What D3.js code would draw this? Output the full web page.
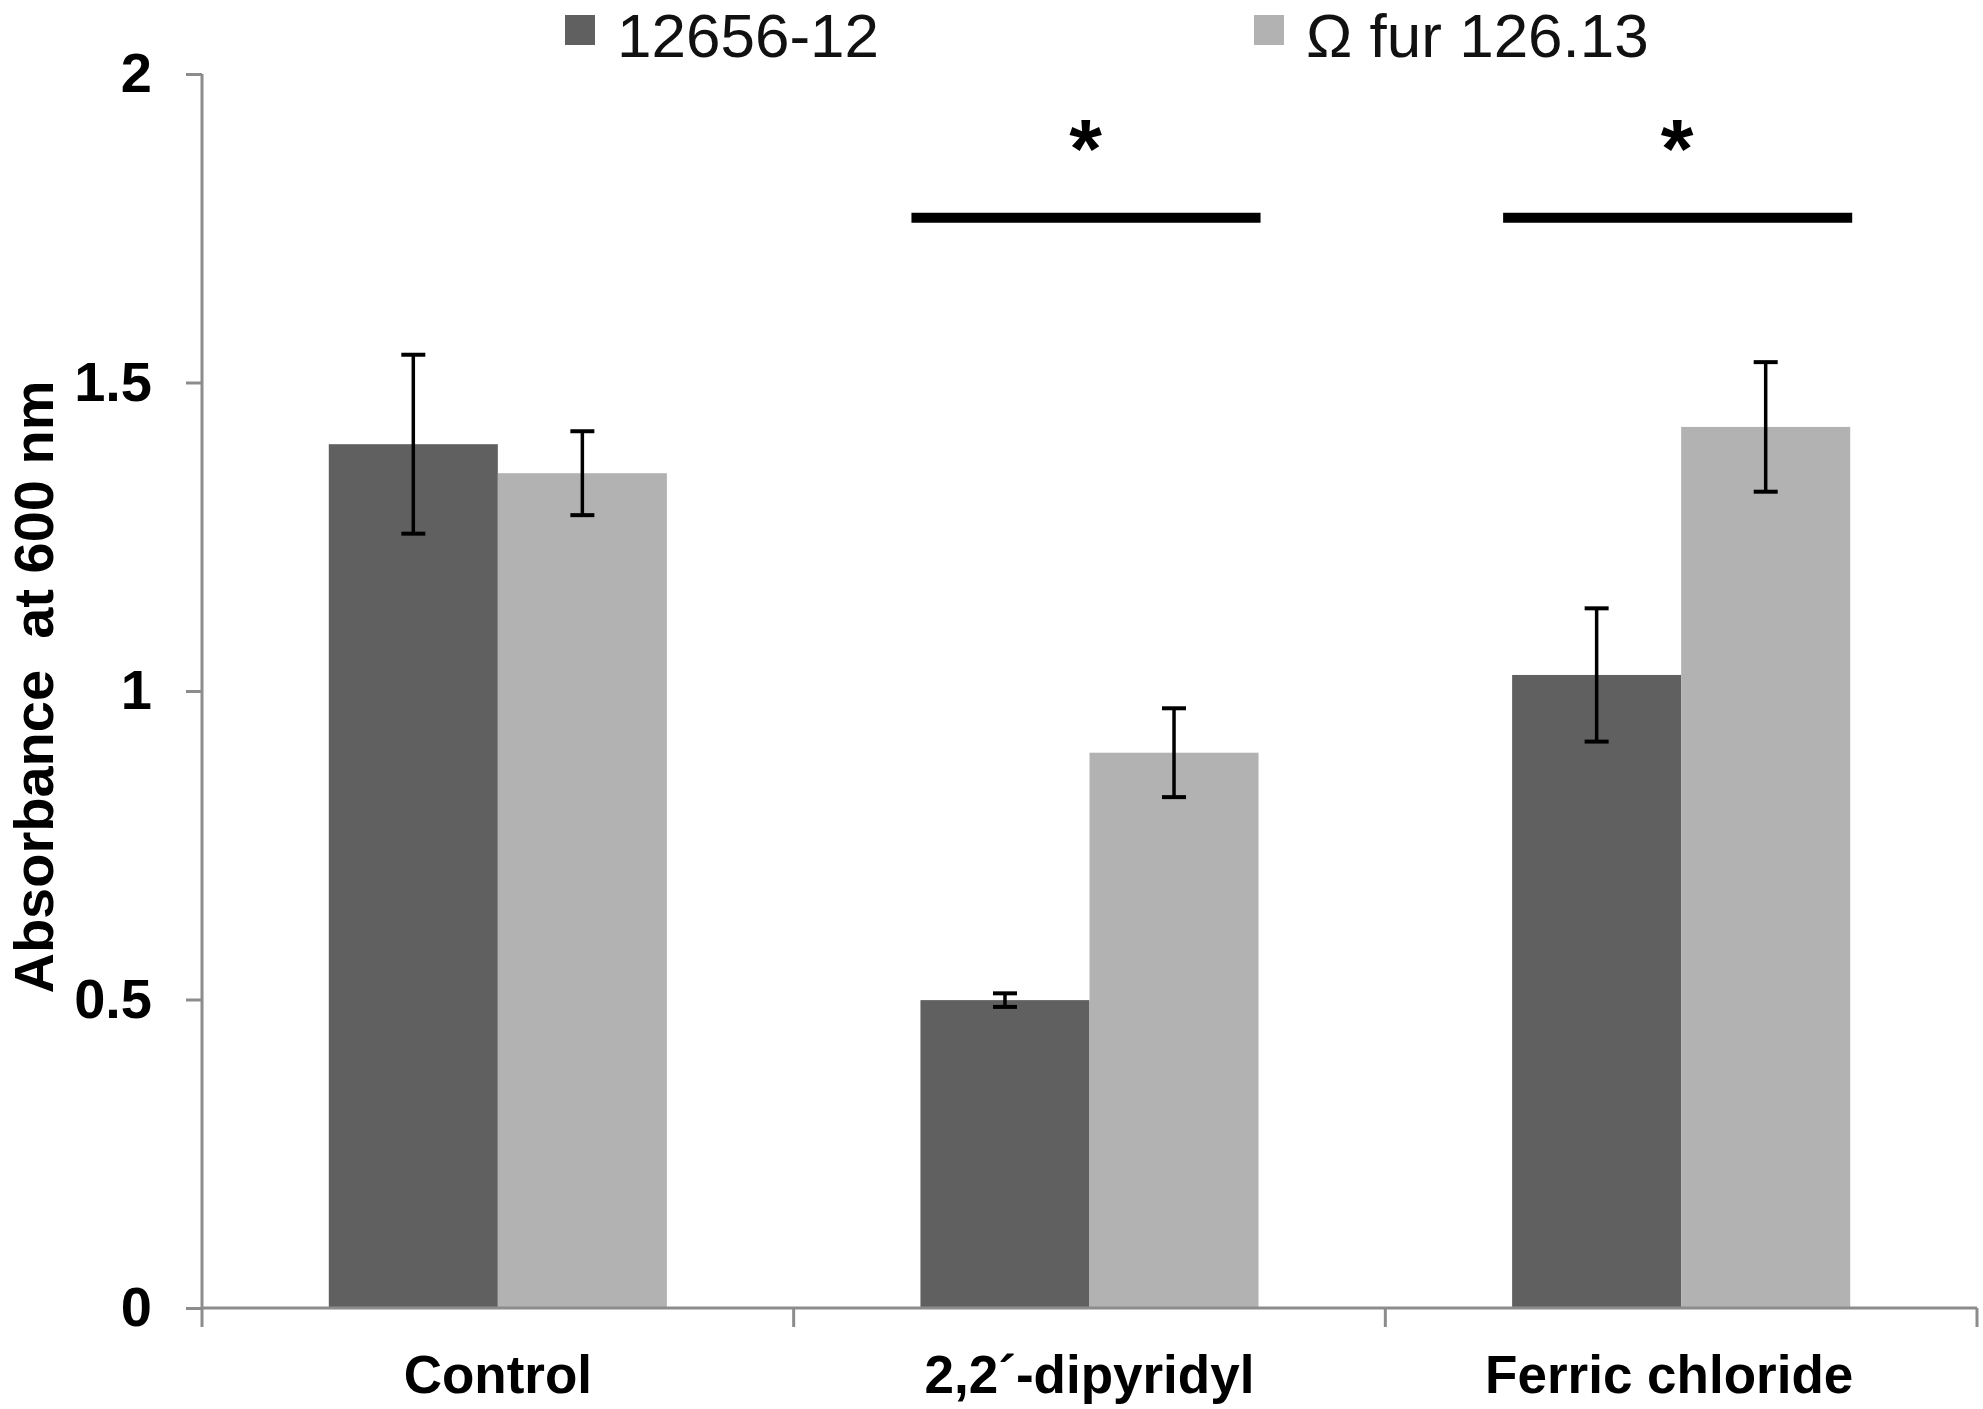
<!DOCTYPE html>
<html>
<head>
<meta charset="utf-8">
<script src="https://cdn.jsdelivr.net/npm/d3@7"></script>
<style>
  body { margin: 0; background: #fff; }
  text { font-family: "Liberation Sans", Arial, sans-serif; }
</style>
</head>
<body>
<div id="graph"></div>
<script>
const categories = ["Control", "2,2´-dipyridyl", "Ferric chloride"];
const seriesNames = ["12656-12", "Ω fur 126.13"];
const strainValues = [1.40, 0.499, 1.026];
const strainErrors = [0.145, 0.011, 0.108];
const mutantValues = [1.353, 0.900, 1.428];
const mutantErrors = [0.068, 0.072, 0.105];
const yTicks = [0, 0.5, 1, 1.5, 2];
const sigCategories = ["2,2´-dipyridyl", "Ferric chloride"];
const sigLevel = 1.767;

const colors = ["#606060", "#b2b2b2"];

function buildRows() {
    return categories.map((c, i) => ({
        category: c,
        bars: [
            { series: seriesNames[0], value: strainValues[i], err: strainErrors[i] },
            { series: seriesNames[1], value: mutantValues[i], err: mutantErrors[i] }
        ]
    }));
}

function renderGraph(rows) {
    const width = 1983;
    const height = 1409;
    const margin = { top: 74, bottom: 101, left: 202, right: 6 };
    const axisColor = "#8c8c8c";

    const svg = d3.select("#graph")
        .append("svg")
        .attr("width", width)
        .attr("height", height)
        .attr("viewBox", [0, 0, width, height]);

    const defs = svg.append("defs");
    defs.append("filter").attr("id", "shadow")
        .attr("x", "-5%").attr("y", "-200%").attr("width", "110%").attr("height", "500%")
        .append("feGaussianBlur").attr("stdDeviation", 3);

    const x0 = d3.scaleBand()
        .domain(categories)
        .range([margin.left, width - margin.right])
        .padding(0);

    const x1 = d3.scaleBand()
        .domain(seriesNames)
        .range([0, x0.bandwidth()])
        .paddingInner(0)
        .paddingOuter(0.75);

    const y = d3.scaleLinear()
        .domain([0, 2])
        .range([height - margin.bottom, margin.top]);

    const color = d3.scaleOrdinal().domain(seriesNames).range(colors);

    // bars
    const groups = svg.append("g")
        .selectAll("g")
        .data(rows)
        .join("g")
        .attr("transform", d => `translate(${x0(d.category)},0)`);

    groups.selectAll("rect")
        .data(d => d.bars)
        .join("rect")
        .attr("x", d => x1(d.series))
        .attr("y", d => y(d.value))
        .attr("width", x1.bandwidth())
        .attr("height", d => y(0) - y(d.value))
        .attr("fill", d => color(d.series));

    // error bars
    const capHalf = 12;
    const eb = groups.selectAll("g.err")
        .data(d => d.bars)
        .join("g")
        .attr("class", "err")
        .attr("transform", d => `translate(${x1(d.series) + x1.bandwidth() / 2},0)`);
    eb.append("line")
        .attr("y1", d => y(d.value + d.err))
        .attr("y2", d => y(d.value - d.err))
        .attr("stroke", "#000").attr("stroke-width", 3.5);
    eb.selectAll("line.cap")
        .data(d => [d.value + d.err, d.value - d.err])
        .join("line")
        .attr("class", "cap")
        .attr("x1", -capHalf).attr("x2", capHalf)
        .attr("y1", v => y(v)).attr("y2", v => y(v))
        .attr("stroke", "#000").attr("stroke-width", 4);

    // y axis
    const yAxis = g => g
        .attr("transform", `translate(${margin.left},0)`)
        .call(d3.axisLeft(y).tickValues(yTicks).tickSize(16).tickSizeOuter(0).tickPadding(34).tickFormat(d => d))
        .call(g => g.select(".domain").remove())
        .call(g => g.selectAll(".tick line").attr("stroke", axisColor).attr("stroke-width", 3))
        .call(g => g.selectAll(".tick text")
            .attr("font-size", "56px").attr("font-weight", "bold")
            .attr("font-family", "'Liberation Sans', Arial, sans-serif").attr("fill", "#000"));
    svg.append("g").call(yAxis);

    svg.append("line")
        .attr("x1", margin.left).attr("x2", margin.left)
        .attr("y1", y(2)).attr("y2", y(0) + 19)
        .attr("stroke", axisColor).attr("stroke-width", 3);

    // x axis
    svg.append("line")
        .attr("x1", margin.left).attr("x2", width - margin.right)
        .attr("y1", y(0)).attr("y2", y(0))
        .attr("stroke", axisColor).attr("stroke-width", 3);

    const edges = categories.map(c => x0(c)).concat([x0.range()[1]]);
    svg.append("g").selectAll("line")
        .data(edges.slice(1))
        .join("line")
        .attr("x1", d => d).attr("x2", d => d)
        .attr("y1", y(0)).attr("y2", y(0) + 19)
        .attr("stroke", axisColor).attr("stroke-width", 3);

    svg.append("g").selectAll("text")
        .data(categories)
        .join("text")
        .attr("x", (d, i) => x0(d) + x0.bandwidth() / 2 - (i === 2 ? 12 : 0))
        .attr("y", y(0) + 85)
        .attr("text-anchor", "middle")
        .attr("font-size", "53px")
        .attr("font-weight", "bold")
        .text(d => d);

    // y label
    svg.append("text")
        .attr("transform", `translate(53,${(y(0) + y(2)) / 2 - 4}) rotate(-90)`)
        .attr("text-anchor", "middle")
        .attr("font-size", "56px")
        .attr("font-weight", "bold")
        .attr("xml:space", "preserve")
        .text("Absorbance  at 600 nm");

    // significance markers
    const sig = svg.append("g").selectAll("g")
        .data(sigCategories)
        .join("g");
    sig.append("line")
        .attr("x1", d => x0(d) + x1(seriesNames[0]) - 9)
        .attr("x2", d => x0(d) + x1(seriesNames[1]) + x1.bandwidth() + 2)
        .attr("y1", y(sigLevel) + 8).attr("y2", y(sigLevel) + 8)
        .attr("stroke", "#bbb").attr("stroke-width", 8)
        .attr("filter", "url(#shadow)");
    sig.append("line")
        .attr("x1", d => x0(d) + x1(seriesNames[0]) - 9)
        .attr("x2", d => x0(d) + x1(seriesNames[1]) + x1.bandwidth() + 2)
        .attr("y1", y(sigLevel)).attr("y2", y(sigLevel))
        .attr("stroke", "#000").attr("stroke-width", 10);
    sig.append("text")
        .attr("x", d => x0(d) + x0.bandwidth() / 2 - 4)
        .attr("y", y(sigLevel) - 40)
        .attr("text-anchor", "middle")
        .attr("font-size", "84px")
        .attr("font-weight", "bold")
        .text("*");

    // legend
    const legendX = [565, 1254];
    const legend = svg.append("g").selectAll("g")
        .data(seriesNames)
        .join("g")
        .attr("transform", (d, i) => `translate(${legendX[i]},15)`);
    legend.append("rect")
        .attr("width", 30).attr("height", 30)
        .attr("fill", d => color(d));
    legend.append("text")
        .attr("x", 52)
        .attr("y", 42)
        .attr("font-size", "62px")
        .attr("fill", "#111")
        .text(d => d);
}

renderGraph(buildRows());
</script>
</body>
</html>
